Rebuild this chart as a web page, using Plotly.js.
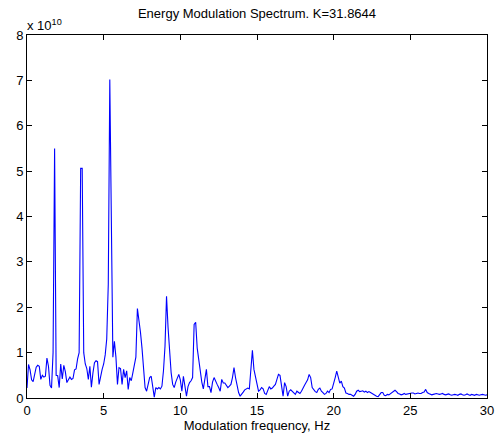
<!DOCTYPE html>
<html>
<head>
<meta charset="utf-8">
<script src="https://cdn.plot.ly/plotly-3.0.1.min.js"></script>
<style>html,body{margin:0;padding:0;background:#fff}#plot{width:495px;height:440px}</style>
</head>
<body>
<div id="plot"></div>
<script>
// Modulation frequency grid: starts at 0 Hz, step 0.1 Hz
const freqStart = 0;
const freqStep = 0.1;
// Energy (units of 1e10), one value per 0.1 Hz from 0 to 30 Hz
const energy = [
  0.22, 0.74, 0.62, 0.40, 0.36, 0.52, 0.68, 0.72, 0.70, 0.41,
  0.50, 0.46, 0.48, 0.88, 0.70, 0.28, 0.22, 1.00, 5.50, 0.50,
  0.49, 0.23, 0.75, 0.42, 0.72, 0.58, 0.34, 0.40, 0.46, 0.41,
  0.43, 0.62, 0.64, 0.86, 1.00, 5.06, 5.06, 1.00, 0.75, 0.65,
  0.41, 0.70, 0.24, 0.55, 0.78, 0.82, 0.80, 0.30, 0.50, 0.63,
  0.75, 0.95, 1.30, 2.50, 7.02, 3.00, 0.90, 1.25, 0.90, 0.30,
  0.67, 0.65, 0.30, 0.63, 0.45, 0.60, 0.19, 0.45, 0.38, 0.55,
  0.70, 0.90, 1.97, 1.75, 1.45, 1.10, 0.56, 0.23, 0.15, 0.30,
  0.45, 0.48, 0.25, 0.02, 0.23, 0.20, 0.23, 0.20, 0.26, 0.60,
  1.14, 2.24, 1.55, 1.00, 0.56, 0.30, 0.23, 0.35, 0.42, 0.52,
  0.40, 0.15, 0.48, 0.30, 0.04, 0.25, 0.34, 0.38, 0.45, 1.62,
  1.67, 1.10, 0.81, 0.65, 0.35, 0.20, 0.45, 0.63, 0.25, 0.25,
  0.12, 0.35, 0.45, 0.35, 0.30, 0.23, 0.15, 0.41, 0.33, 0.33,
  0.28, 0.23, 0.26, 0.30, 0.45, 0.67, 0.45, 0.25, 0.12, 0.04,
  0.10, 0.13, 0.18, 0.20, 0.22, 0.20, 0.63, 1.05, 0.63, 0.45,
  0.35, 0.15, 0.18, 0.23, 0.20, 0.10, 0.08, 0.18, 0.25, 0.20,
  0.22, 0.26, 0.30, 0.41, 0.52, 0.50, 0.30, 0.04, 0.34, 0.25,
  0.04, 0.15, 0.18, 0.14, 0.12, 0.08, 0.15, 0.12, 0.10, 0.15,
  0.23, 0.28, 0.34, 0.40, 0.52, 0.45, 0.23, 0.18, 0.14, 0.12,
  0.19, 0.22, 0.15, 0.12, 0.08, 0.10, 0.15, 0.12, 0.19, 0.20,
  0.30, 0.45, 0.59, 0.48, 0.33, 0.37, 0.25, 0.22, 0.11, 0.10,
  0.08, 0.08, 0.05, 0.04, 0.08, 0.15, 0.17, 0.14, 0.15, 0.16,
  0.13, 0.15, 0.12, 0.14, 0.12, 0.10, 0.08, 0.05, 0.04, 0.03,
  0.08, 0.12, 0.12, 0.06, 0.05, 0.08, 0.07, 0.10, 0.12, 0.14,
  0.17, 0.14, 0.10, 0.09, 0.07, 0.08, 0.10, 0.08, 0.09, 0.10,
  0.10, 0.11, 0.11, 0.09, 0.10, 0.11, 0.10, 0.10, 0.12, 0.13,
  0.19, 0.12, 0.10, 0.08, 0.07, 0.08, 0.09, 0.10, 0.09, 0.08,
  0.09, 0.10, 0.08, 0.07, 0.08, 0.09, 0.07, 0.06, 0.07, 0.08,
  0.07, 0.06, 0.08, 0.09, 0.07, 0.06, 0.07, 0.09, 0.07, 0.06,
  0.08, 0.07, 0.06, 0.08, 0.07, 0.06, 0.07, 0.08, 0.07, 0.06,
  0.07
];
const xTicks = [0, 5, 10, 15, 20, 25, 30];
const yTicks = [0, 1, 2, 3, 4, 5, 6, 7, 8];
const titleText = 'Energy Modulation Spectrum. K=31.8644';
const xLabel = 'Modulation frequency, Hz';
const yExponent = 'x 10<sup>10</sup>';

const font = {family: 'Liberation Sans, Arial, sans-serif', size: 13, color: '#000'};
const axisCommon = {
  showgrid: false, zeroline: false, showline: true, linecolor: '#000', linewidth: 1,
  mirror: 'allticks', ticks: 'inside', ticklen: 5, tickcolor: '#000', tickwidth: 1,
  tickfont: font, fixedrange: true, ticklabeloverflow: 'allow'
};

Plotly.newPlot('plot', [{
  type: 'scatter', mode: 'lines',
  x0: freqStart, dx: freqStep, y: energy,
  line: {color: '#0000ff', width: 1.1},
  hoverinfo: 'skip'
}], {
  width: 495, height: 440,
  margin: {l: 27, r: 8, t: 35, b: 42},
  paper_bgcolor: '#fff', plot_bgcolor: '#fff',
  font: font,
  showlegend: false,
  title: {text: titleText, font: font, x: 0.5, xref: 'paper', y: 1 - 13/440, yref: 'container', yanchor: 'middle'},
  xaxis: Object.assign({}, axisCommon, {
    range: [0, 30], tickvals: xTicks, ticktext: xTicks.map(String),
    title: {text: xLabel, font: font, standoff: 4}
  }),
  yaxis: Object.assign({}, axisCommon, {
    range: [0, 8], tickvals: yTicks, ticktext: yTicks.map(String)
  }),
  annotations: [{
    text: yExponent, xref: 'paper', yref: 'paper', x: 0, y: 1,
    xanchor: 'left', yanchor: 'bottom', showarrow: false, font: font, xshift: -2, yshift: 0
  }]
}, {displayModeBar: false, staticPlot: true});
</script>
</body>
</html>
